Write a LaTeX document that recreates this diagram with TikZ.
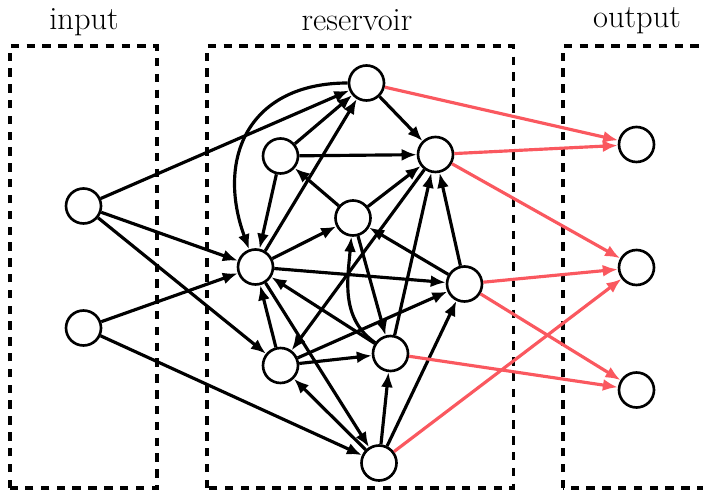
\documentclass[tikz,border=0pt]{standalone}
\usetikzlibrary{arrows.meta}
\definecolor{outred}{RGB}{250,88,95}
\begin{document}
\begin{tikzpicture}[
        neuron/.style={circle,draw,line width=1.5pt,minimum size=0.7cm,inner sep=0pt},
        layer/.style={line width=1.8pt,dash pattern=on 4.8pt off 4.2pt},
        link/.style={line width=1.8pt,-{Latex[length=3mm,width=2.4mm]}},
        readout/.style={link,outred},
        caption/.style={font=\fontsize{18.5}{22}\selectfont,anchor=base}]
            \useasboundingbox (0,0) rectangle (14.06,-9.88);
            \draw[layer] (0.20,-9.76) rectangle (3.14,-0.92);
            \draw[layer] (4.14,-9.76) rectangle (10.27,-0.92);
            \draw[layer] (11.26,-9.76) rectangle (14.60,-0.92);
            \node[caption] (inlabel)  at (1.68,-0.60) {input};
            \node[caption] (reslabel) at (7.14,-0.62) {reservoir};
            \node[caption] (outlabel) at (12.74,-0.55) {output};
            \node[neuron] (i1) at (1.67,-4.12) {};
            \node[neuron] (i2) at (1.67,-6.56) {};
            \node[neuron] (t) at (7.33,-1.66) {};
            \node[neuron] (a) at (5.61,-3.12) {};
            \node[neuron] (b) at (8.71,-3.09) {};
            \node[neuron] (c) at (7.06,-4.36) {};
            \node[neuron] (l) at (5.11,-5.34) {};
            \node[neuron] (r) at (9.29,-5.68) {};
            \node[neuron] (d) at (5.61,-7.31) {};
            \node[neuron] (e) at (7.81,-7.07) {};
            \node[neuron] (f) at (7.58,-9.26) {};
            \node[neuron] (o1) at (12.73,-2.89) {};
            \node[neuron] (o2) at (12.73,-5.35) {};
            \node[neuron] (o3) at (12.73,-7.80) {};
            \draw[link] (i1)--(t);
            \draw[link] (i1)--(l);
            \draw[link] (i1)--(d);
            \draw[link] (i2)--(l);
            \draw[link] (i2)--(f);
            \draw[link] (t) to[out=180,in=110,looseness=1.3] (l);
            \draw[link] (a)--(t);
            \draw[link] (l)--(t);
            \draw[link] (t)--(b);
            \draw[link] (a)--(b);
            \draw[link] (a)--(l);
            \draw[link] (c)--(a);
            \draw[link] (c)--(b);
            \draw[link] (l)--(c);
            \draw[link] (l)--(r);
            \draw[link] (d)--(l);
            \draw[link] (e)--(l);
            \draw[link] (l)--(f);
            \draw[link] (f)--(d);
            \draw[link] (d)--(e);
            \draw[link] (d)--(r);
            \draw[link] (b)--(d);
            \draw[link] (e) to[out=145,in=-95] (c);
            \draw[link] (c)--(e);
            \draw[link] (e)--(b);
            \draw[link] (r)--(b);
            \draw[link] (r)--(c);
            \draw[link] (f)--(e);
            \draw[link] (f)--(r);
            \draw[readout] (t)--(o1);
            \draw[readout] (b)--(o1);
            \draw[readout] (b)--(o2);
            \draw[readout] (r)--(o2);
            \draw[readout] (r)--(o3);
            \draw[readout] (e)--(o3);
            \draw[readout] (f)--(o2);
        \end{tikzpicture}
\end{document}
